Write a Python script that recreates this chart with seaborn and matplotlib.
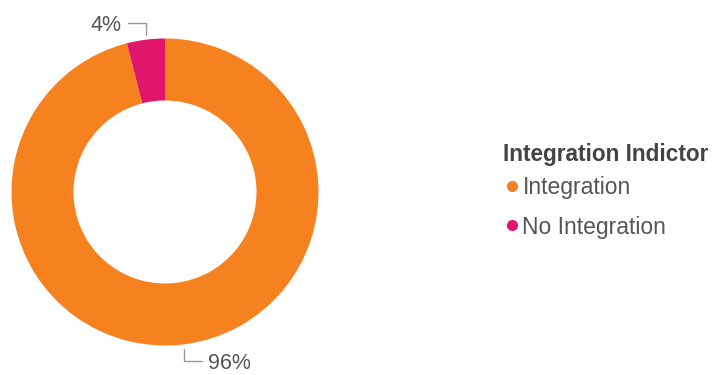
import numpy as np
import matplotlib
matplotlib.use("Agg")
import matplotlib.pyplot as plt
from matplotlib.lines import Line2D
import seaborn as sns

# Share of records by integration status
categories = ["Integration", "No Integration"]
shares = [96, 4]
pct_labels = ["96%", "4%"]
legend_title = "Integration Indictor"
palette = ["#F5821F", "#E0166A"]

sns.set_theme(style="white")
plt.rcParams["font.family"] = ["Liberation Sans", "DejaVu Sans"]

W, H = 713, 375
fig = plt.figure(figsize=(W / 100, H / 100), dpi=100)
ax = fig.add_axes([0, 0, 1, 1])

cx, cy = 165, H - 192
r_out = 153.5
ring = 62

wedges, _ = ax.pie(
    shares,
    colors=palette,
    startangle=90,
    counterclock=False,
    radius=r_out,
    center=(cx, cy),
    wedgeprops=dict(width=ring, edgecolor="none"),
    frame=True,
)
ax.set_xlim(0, W)
ax.set_ylim(0, H)
ax.set_aspect("equal")
ax.axis("off")

text_color = "#555555"
line_color = "#999999"
for w, lab in zip(wedges, pct_labels):
    mid = np.deg2rad((w.theta1 + w.theta2) / 2)
    x0 = cx + r_out * np.cos(mid)
    y0 = cy + r_out * np.sin(mid)
    up = np.sign(np.sin(mid))
    y_start = y0 + up * 5
    y_end = y0 + up * 17
    dx = -18 if np.cos(mid) < 0 else 18
    ax.plot([x0, x0, x0 + dx], [y_start, y_end, y_end], color=line_color, lw=1)
    ax.text(x0 + dx + (-6 if dx < 0 else 6), y_end, lab,
            ha="right" if dx < 0 else "left", va="center_baseline",
            fontsize=15.5, color=text_color)

# Legend title drawn on its own so its spacing from the entries can be set
fig.text(503 / W, 1 - 152 / H, legend_title, ha="left", va="center_baseline",
         fontsize=16.3, fontweight="bold", color="#444444")

handles = [Line2D([], [], marker="o", linestyle="none", markersize=8,
                  markerfacecolor=c, markeredgecolor="none") for c in palette]
leg = fig.legend(handles, categories,
                 loc="upper left", bbox_to_anchor=(503 / W, 1 - 176 / H),
                 frameon=False, fontsize=16.5, alignment="left",
                 handletextpad=0.05, handlelength=0.8, labelspacing=0.72,
                 borderaxespad=0, borderpad=0)
for t in leg.get_texts():
    t.set_color(text_color)

fig.savefig("out.png", dpi=100, facecolor="white")
